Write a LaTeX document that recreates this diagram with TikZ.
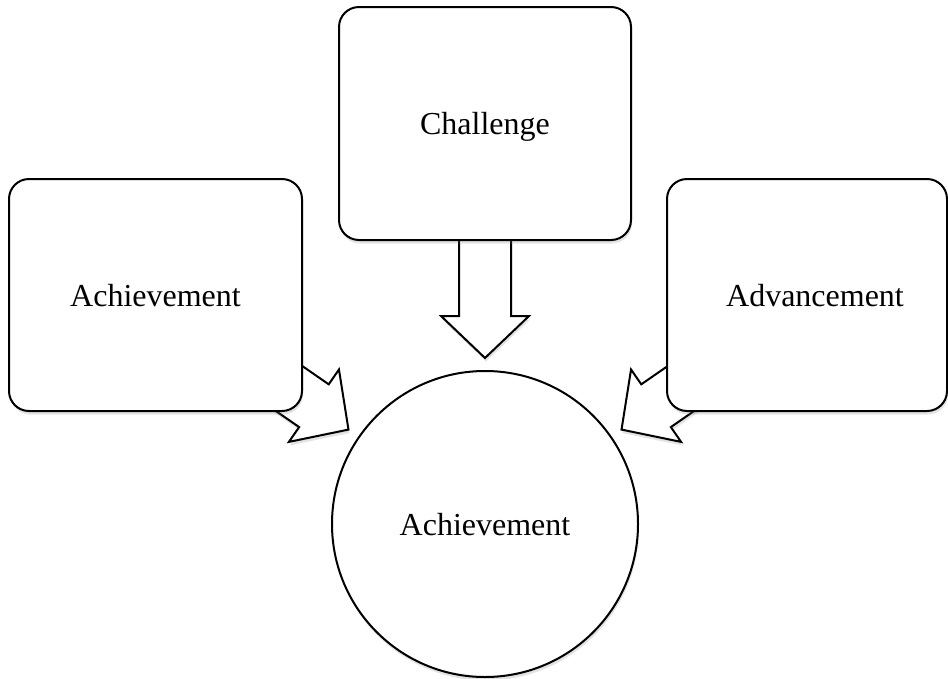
\documentclass[tikz,border=0pt]{standalone}
\usepackage{fontspec}
\setmainfont{Liberation Serif}
\usetikzlibrary{calc,shadows,backgrounds}
\newcommand{\blockarrow}[3]{%
  \coordinate (#3h) at ($(#2)!42pt!(#1)$);
  \draw[barrow] ($(#1)!26pt!90:(#2)$) -- ($(#3h)!26pt!90:(#2)$) -- ($(#3h)!44pt!90:(#2)$)
    -- (#2) -- ($(#3h)!44pt!-90:(#2)$) -- ($(#3h)!26pt!-90:(#2)$) -- ($(#1)!26pt!-90:(#2)$) -- cycle;
}
\begin{document}
\begin{tikzpicture}[x=1pt,y=-1pt,
  shad/.style={drop shadow={opacity=0.22,shadow xshift=1pt,shadow yshift=-3.5pt}},
  box/.style={draw, line width=2pt, fill=white, rounded corners=20pt, inner sep=0pt,
    font=\fontsize{32}{36}\selectfont, text depth=0pt, shad},
  ball/.style={circle, draw, line width=2pt, fill=white, inner sep=0pt,
    font=\fontsize{32}{36}\selectfont, text depth=0pt, shad},
  barrow/.style={draw, line width=2pt, fill=white, line join=miter, shad}]
\clip (0,0) rectangle (948,678);
\node[box, minimum width=292pt, minimum height=233pt] (chal) at (485,123.5) {Challenge};
\node[box, minimum width=293pt, minimum height=232pt] (ach1) at (155.5,295) {Achievement};
\node[box, minimum width=280pt, minimum height=232pt] (adv) at (807,295) {\hspace*{16pt}Advancement};
\node[ball, minimum size=306pt] (circ) at (485,524) {Achievement};
\coordinate (cs) at ($(chal.south)+(0,-12)$);
\coordinate (ls) at ($(ach1.south east)+(-37.5,-39.8)$);
\coordinate (rs) at ($(adv.south west)+(38.5,-39.8)$);
\coordinate (ctip) at ($(circ.center)!166pt!(cs)$);
\coordinate (ltip) at ($(circ.center)!166pt!(ls)$);
\coordinate (rtip) at ($(circ.center)!166pt!(rs)$);
\begin{pgfonlayer}{background}
\fill[white] (0,0) rectangle (948,678);
\blockarrow{cs}{ctip}{c}
\blockarrow{ls}{ltip}{l}
\blockarrow{rs}{rtip}{r}
\end{pgfonlayer}
\end{tikzpicture}
\end{document}
